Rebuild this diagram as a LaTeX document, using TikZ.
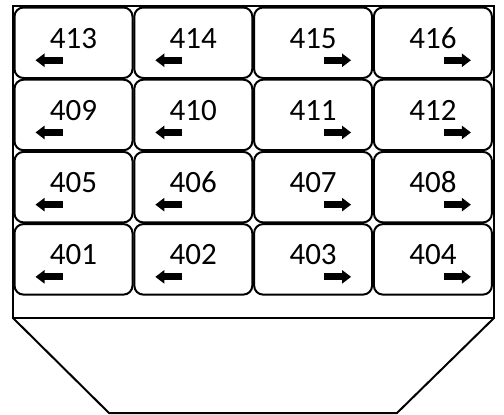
\documentclass[tikz,border=0pt]{standalone}
\usepackage{fontspec}
\setmainfont{Carlito}
\usetikzlibrary{positioning,arrows.meta}

\begin{document}
\begin{tikzpicture}[x=1pt, y=1pt,
  every node/.style={font=\fontsize{31}{31}\selectfont},
  cell/.style={draw, line width=2pt, rounded corners=9pt, minimum width=118pt, minimum height=70.5pt, inner sep=0pt, outer sep=0pt, text height=21pt, text depth=10pt},
  goleft/.style={line width=7pt, -{Triangle[length=9pt, width=13pt]}},
  goright/.style={goleft},
  frame/.style={line width=2pt},
  node distance=1.7pt and 1.8pt]

\useasboundingbox (0,0) rectangle (504,-415);

% tray outline
\draw[frame] (13,-6) rectangle (494,-318);
\draw[frame] (13,-318) -- (109,-413) -- (397,-413) -- (494,-318);

% top row
\node[cell] (c413) at (73.5,-42.75) {413};
\node[cell, right=of c413] (c414) {414};
\node[cell, right=of c414] (c415) {415};
\node[cell, right=of c415] (c416) {416};

\node[cell, below=of c413] (c409) {409};
\node[cell, right=of c409] (c410) {410};
\node[cell, right=of c410] (c411) {411};
\node[cell, right=of c411] (c412) {412};

\node[cell, below=of c409] (c405) {405};
\node[cell, right=of c405] (c406) {406};
\node[cell, right=of c406] (c407) {407};
\node[cell, right=of c407] (c408) {408};

\node[cell, below=of c405] (c401) {401};
\node[cell, right=of c401] (c402) {402};
\node[cell, right=of c402] (c403) {403};
\node[cell, right=of c403] (c404) {404};

% direction marks
\foreach \c in {413,414,409,410,405,406,401,402}
  \draw[goleft] ([xshift=48pt, yshift=-17.5pt]c\c.west) -- +(-27pt,0);
\foreach \c in {415,416,411,412,407,408,403,404}
  \draw[goright] ([xshift=-48pt, yshift=-17.5pt]c\c.east) -- +(27pt,0);
\end{tikzpicture}
\end{document}
